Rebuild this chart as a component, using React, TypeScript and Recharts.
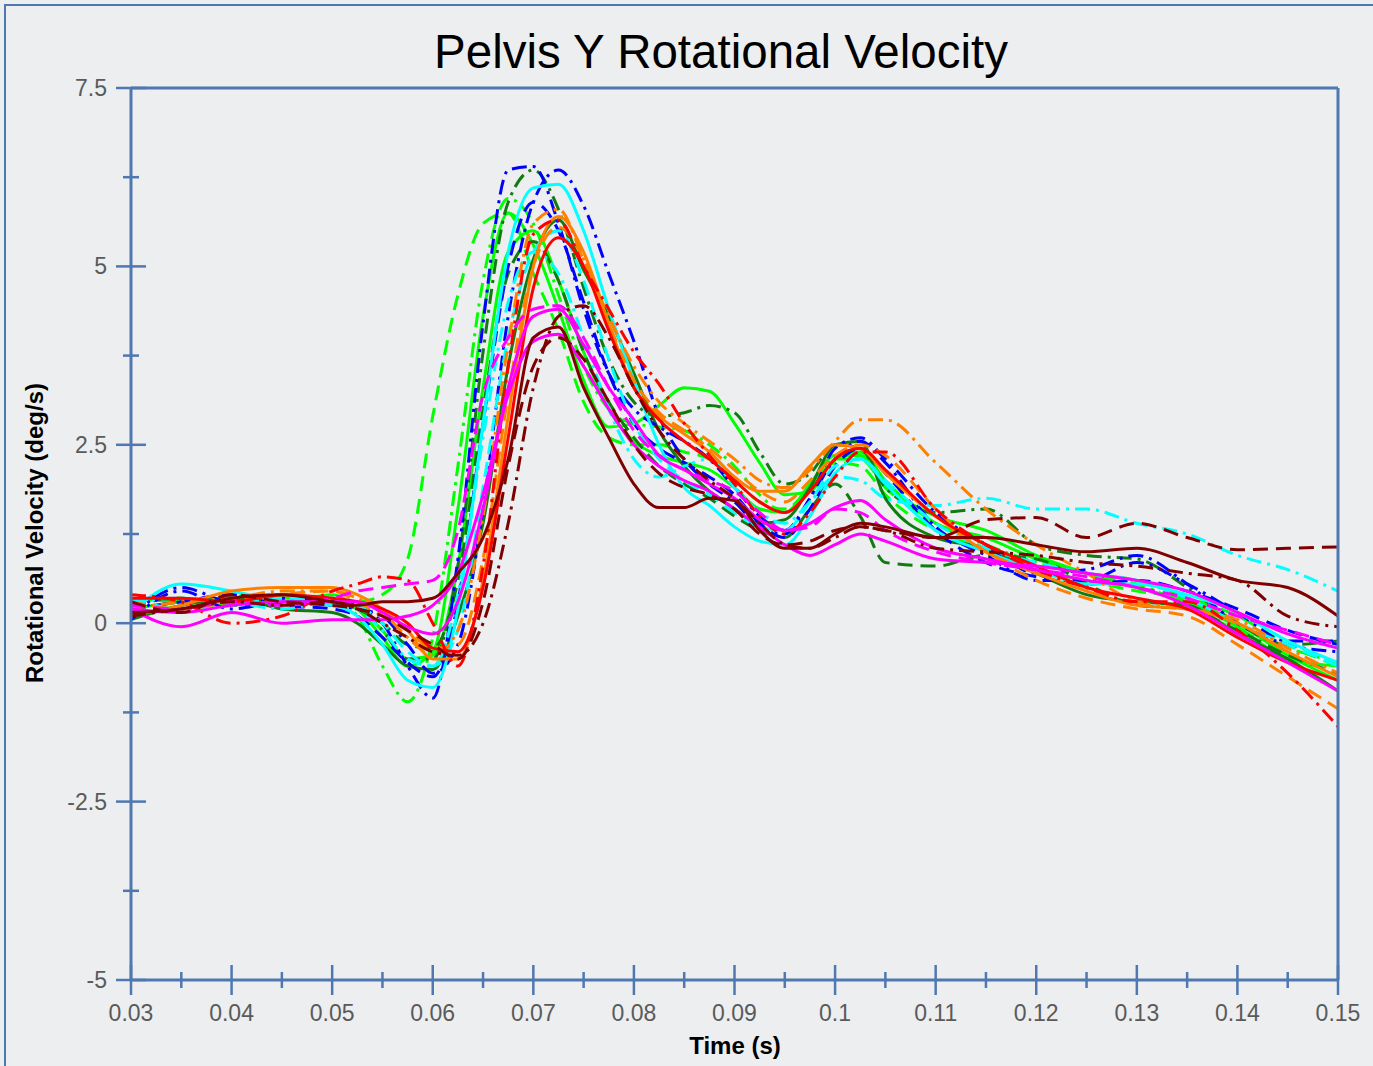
import React from 'react';
import { LineChart, Line, XAxis, YAxis, ReferenceLine } from 'recharts';

// sample times (s) - denser around the main peak
const time = [0.03, 0.035, 0.04, 0.045, 0.05, 0.0525, 0.055, 0.0575, 0.06, 0.0625, 0.065, 0.0675, 0.07, 0.0725, 0.075, 0.0775, 0.08, 0.0825, 0.085, 0.0875, 0.09, 0.0925, 0.095, 0.0975, 0.1, 0.1025, 0.105, 0.11, 0.115, 0.12, 0.125, 0.13, 0.135, 0.14, 0.145, 0.15];

const xTicks = [0.03, 0.035, 0.04, 0.045, 0.05, 0.055, 0.06, 0.065, 0.07, 0.075, 0.08, 0.085, 0.09, 0.095, 0.1, 0.105, 0.11, 0.115, 0.12, 0.125, 0.13, 0.135, 0.14, 0.145, 0.15];
const yTicks = [-5, -3.75, -2.5, -1.25, 0, 1.25, 2.5, 3.75, 5, 6.25, 7.5];

// velocities (deg/s), one array per trial
const limeDashed = [0.3, 0.35, 0.3, 0.4, 0.35, 0.3, 0.4, 0.9, 2.9, 4.6, 5.6, 5.75, 4.9, 4.1, 3.1, 2.6, 2.5, 2.5, 2.4, 2.3, 2.0, 1.7, 1.6, 1.9, 2.25, 2.2, 1.8, 1.3, 1.05, 0.75, 0.6, 0.45, 0.35, 0.1, -0.3, -0.6];
const limeSolid = [0.2, 0.3, 0.35, 0.3, 0.4, 0.2, -0.2, -0.6, -0.4, 1.6, 4.3, 5.75, 5.3, 4.4, 3.4, 2.75, 2.8, 3.05, 3.3, 3.25, 2.8, 2.25, 1.8, 1.85, 2.3, 2.4, 2.0, 1.4, 1.2, 0.9, 0.7, 0.6, 0.35, 0.0, -0.45, -0.8];
const limeDashDot = [0.1, 0.25, 0.4, 0.35, 0.35, 0.1, -0.6, -1.1, -0.2, 2.2, 4.8, 5.95, 5.6, 4.6, 3.6, 3.0, 2.8, 2.75, 2.7, 2.5, 2.2, 1.8, 1.55, 1.9, 2.3, 2.3, 1.9, 1.4, 1.1, 0.85, 0.7, 0.55, 0.25, -0.1, -0.35, -0.55];
const limeSolid2 = [0.35, 0.3, 0.25, 0.4, 0.3, 0.2, -0.1, -0.5, -0.45, 0.8, 3.3, 5.2, 5.5, 4.8, 3.8, 3.0, 2.55, 2.35, 2.25, 2.15, 1.9, 1.6, 1.55, 1.95, 2.35, 2.35, 1.95, 1.5, 1.3, 0.95, 0.7, 0.5, 0.3, -0.05, -0.5, -0.6];
const greenDashDot = [0.2, 0.3, 0.35, 0.3, 0.35, 0.25, -0.1, -0.5, -0.5, 0.8, 3.8, 5.9, 6.35, 5.8, 4.7, 3.7, 3.1, 2.9, 2.95, 3.05, 2.95, 2.4, 1.95, 2.1, 2.5, 2.45, 1.9, 1.55, 1.6, 1.1, 0.95, 0.9, 0.5, 0.0, -0.3, -0.25];
const greenSolid = [0.05, 0.25, 0.35, 0.2, 0.15, 0.0, -0.3, -0.6, -0.65, 0.1, 1.4, 3.6, 5.1, 5.65, 4.95, 4.3, 3.5, 2.7, 2.2, 1.85, 1.6, 1.4, 1.45, 1.9, 2.5, 2.55, 1.75, 1.2, 1.05, 0.7, 0.4, 0.3, 0.25, -0.15, -0.5, -0.95];
const greenDashed = [0.25, 0.35, 0.25, 0.3, 0.3, 0.2, 0.0, -0.3, -0.35, 0.6, 3.0, 4.9, 5.35, 4.8, 3.8, 3.1, 2.6, 2.2, 1.95, 1.75, 1.5, 1.3, 1.2, 1.6, 1.95, 1.5, 0.85, 0.8, 0.95, 0.9, 0.55, 0.25, 0.2, -0.1, -0.45, -0.7];
const blueDashDotA = [0.1, 0.5, 0.3, 0.35, 0.3, 0.25, 0.0, -0.6, -1.05, 0.9, 4.2, 6.35, 6.4, 5.6, 4.4, 3.5, 3.0, 2.75, 2.55, 2.3, 1.9, 1.5, 1.3, 1.75, 2.3, 2.55, 2.25, 1.35, 0.95, 0.6, 0.6, 0.85, 0.55, 0.15, -0.25, -0.25];
const blueDashDotB = [0.05, 0.45, 0.2, 0.3, 0.25, 0.2, 0.1, -0.3, -0.7, -0.3, 1.6, 4.3, 5.9, 6.35, 5.85, 4.9, 3.95, 2.9, 2.3, 1.95, 1.7, 1.35, 1.25, 1.75, 2.45, 2.6, 2.3, 1.55, 1.1, 0.7, 0.75, 0.95, 0.55, 0.0, -0.3, -0.4];
const blueDashed = [0.2, 0.3, 0.4, 0.25, 0.2, 0.1, -0.2, -0.55, -0.75, 0.3, 2.8, 5.0, 5.9, 5.5, 4.5, 3.5, 2.8, 2.45, 2.25, 2.05, 1.8, 1.4, 1.2, 1.6, 2.2, 2.45, 2.1, 1.3, 0.85, 0.65, 0.55, 0.6, 0.45, 0.2, -0.1, -0.3];
const cyanSolid = [0.15, 0.55, 0.45, 0.3, 0.25, 0.1, -0.3, -0.8, -0.9, 0.2, 2.8, 5.2, 6.1, 6.15, 5.5, 4.4, 3.4, 2.5, 1.9, 1.65, 1.35, 1.15, 1.1, 1.5, 2.1, 2.3, 1.95, 1.3, 1.0, 0.75, 0.55, 0.55, 0.4, 0.15, -0.25, -0.55];
const cyanDashDot = [0.3, 0.35, 0.3, 0.2, 0.3, 0.2, -0.1, -0.5, -0.6, 0.4, 2.6, 4.5, 5.2, 4.9, 4.0, 3.0, 2.3, 2.05, 2.2, 2.3, 1.9, 1.55, 1.4, 1.7, 2.05, 2.0, 1.75, 1.65, 1.75, 1.6, 1.6, 1.4, 1.25, 0.95, 0.75, 0.45];
const cyanDashed = [0.35, 0.2, 0.25, 0.35, 0.3, 0.25, 0.0, -0.4, -0.6, -0.1, 1.9, 4.0, 5.2, 5.5, 4.8, 3.7, 2.8, 2.3, 2.0, 1.8, 1.55, 1.35, 1.3, 1.7, 2.2, 2.3, 2.0, 1.4, 1.05, 0.85, 0.7, 0.6, 0.35, 0.0, -0.3, -0.6];
const orangeDashDot = [0.2, 0.3, 0.35, 0.45, 0.45, 0.35, 0.15, -0.2, -0.45, -0.1, 1.5, 3.9, 5.6, 5.8, 5.1, 4.3, 3.6, 3.1, 2.8, 2.55, 2.3, 2.0, 1.9, 2.15, 2.55, 2.85, 2.85, 2.25, 1.6, 1.1, 0.7, 0.3, 0.2, 0.05, -0.35, -0.7];
const orangeSolid = [0.1, 0.25, 0.45, 0.5, 0.5, 0.4, 0.2, -0.1, -0.5, -0.5, 0.6, 2.9, 5.0, 5.7, 5.2, 4.2, 3.3, 2.9, 2.65, 2.4, 2.05, 1.85, 1.85, 2.2, 2.5, 2.45, 2.1, 1.5, 1.0, 0.7, 0.45, 0.25, 0.2, 0.0, -0.4, -0.75];
const orangeDashed = [0.3, 0.2, 0.3, 0.4, 0.45, 0.3, 0.1, -0.1, -0.35, -0.3, 0.9, 3.2, 5.0, 5.55, 5.1, 4.2, 3.4, 2.95, 2.7, 2.45, 2.15, 1.85, 1.7, 2.0, 2.35, 2.5, 2.35, 1.6, 1.0, 0.6, 0.35, 0.2, 0.1, -0.3, -0.75, -1.2];
const redDashDot = [0.4, 0.3, 0.0, 0.1, 0.45, 0.55, 0.65, 0.6, 0.0, -0.6, 0.8, 3.6, 5.45, 5.65, 5.0, 4.4, 3.8, 3.35, 2.8, 2.35, 1.95, 1.5, 1.25, 1.55, 2.05, 2.4, 2.4, 1.6, 1.1, 0.75, 0.5, 0.3, 0.3, -0.1, -0.7, -1.45];
const redSolid = [0.35, 0.35, 0.3, 0.4, 0.35, 0.3, 0.2, 0.0, -0.35, -0.4, 0.5, 2.6, 4.7, 5.4, 5.0, 4.1, 3.3, 2.85, 2.55, 2.3, 2.0, 1.7, 1.55, 1.85, 2.3, 2.45, 2.15, 1.5, 1.1, 0.8, 0.5, 0.35, 0.2, -0.2, -0.55, -0.8];
const magentaDashed = [0.25, 0.2, 0.3, 0.25, 0.35, 0.45, 0.5, 0.55, 0.6, 1.3, 3.2, 4.0, 4.4, 4.45, 4.0, 3.3, 2.7, 2.35, 2.15, 2.0, 1.85, 1.55, 1.3, 1.35, 1.6, 1.55, 1.3, 1.0, 0.85, 0.75, 0.65, 0.5, 0.35, 0.1, -0.1, -0.3];
const magentaSolid = [0.2, 0.15, 0.25, 0.3, 0.3, 0.3, 0.15, -0.05, -0.15, 0.3, 1.6, 3.3, 4.3, 4.4, 3.9, 3.3, 2.85, 2.35, 2.15, 1.95, 1.75, 1.45, 1.3, 1.4, 1.62, 1.72, 1.45, 1.05, 0.9, 0.75, 0.6, 0.5, 0.25, -0.15, -0.55, -0.95];
const magentaSolid2 = [0.2, -0.05, 0.15, 0.0, 0.05, 0.05, 0.05, 0.1, 0.25, 0.7, 1.8, 3.2, 3.95, 4.05, 3.6, 3.0, 2.5, 2.2, 2.0, 1.85, 1.6, 1.35, 1.1, 0.95, 1.1, 1.25, 1.15, 0.9, 0.85, 0.8, 0.7, 0.6, 0.45, 0.15, -0.15, -0.35];
const maroonSolid = [0.15, 0.2, 0.35, 0.4, 0.3, 0.25, 0.3, 0.3, 0.35, 0.7, 1.2, 2.3, 4.0, 4.15, 3.3, 2.6, 1.95, 1.62, 1.62, 1.75, 1.72, 1.3, 1.05, 1.05, 1.25, 1.4, 1.35, 1.2, 1.2, 1.1, 1.0, 1.05, 0.85, 0.6, 0.5, 0.1];
const maroonDashDot = [0.1, 0.2, 0.3, 0.25, 0.3, 0.2, 0.0, -0.2, -0.4, -0.45, 0.0, 1.4, 3.3, 4.3, 4.45, 4.0, 3.3, 2.7, 2.3, 2.0, 1.75, 1.4, 1.1, 1.05, 1.2, 1.35, 1.3, 1.05, 1.0, 0.95, 0.85, 0.8, 0.7, 0.6, 0.1, -0.05];
const maroonDashed = [0.3, 0.15, 0.4, 0.3, 0.25, 0.2, 0.1, -0.1, -0.3, -0.5, 0.3, 2.2, 3.6, 4.0, 3.7, 3.1, 2.5, 2.1, 1.9, 1.8, 1.6, 1.25, 1.1, 1.15, 1.3, 1.35, 1.3, 1.2, 1.45, 1.48, 1.2, 1.4, 1.2, 1.03, 1.05, 1.07];

const LIME = '#00ff00';
const GREEN = '#107c10';
const BLUE = '#0000ff';
const CYAN = '#00ffff';
const ORANGE = '#ff8000';
const RED = '#ff0000';
const MAGENTA = '#ff00ff';
const MAROON = '#800000';

const SOLID = undefined;
const DASHED = '15 8';
const DASHDOT = '15 6 3 6';

const series = [
  { key: 'limeDashed', values: limeDashed, color: LIME, dash: DASHED },
  { key: 'limeSolid', values: limeSolid, color: LIME, dash: SOLID },
  { key: 'limeDashDot', values: limeDashDot, color: LIME, dash: DASHDOT },
  { key: 'limeSolid2', values: limeSolid2, color: LIME, dash: SOLID },
  { key: 'greenDashDot', values: greenDashDot, color: GREEN, dash: DASHDOT },
  { key: 'greenSolid', values: greenSolid, color: GREEN, dash: SOLID },
  { key: 'greenDashed', values: greenDashed, color: GREEN, dash: DASHED },
  { key: 'blueDashDotA', values: blueDashDotA, color: BLUE, dash: DASHDOT },
  { key: 'blueDashDotB', values: blueDashDotB, color: BLUE, dash: DASHDOT },
  { key: 'blueDashed', values: blueDashed, color: BLUE, dash: DASHED },
  { key: 'cyanSolid', values: cyanSolid, color: CYAN, dash: SOLID },
  { key: 'cyanDashDot', values: cyanDashDot, color: CYAN, dash: DASHDOT },
  { key: 'cyanDashed', values: cyanDashed, color: CYAN, dash: DASHED },
  { key: 'orangeDashDot', values: orangeDashDot, color: ORANGE, dash: DASHDOT },
  { key: 'orangeSolid', values: orangeSolid, color: ORANGE, dash: SOLID },
  { key: 'orangeDashed', values: orangeDashed, color: ORANGE, dash: DASHED },
  { key: 'redDashDot', values: redDashDot, color: RED, dash: DASHDOT },
  { key: 'redSolid', values: redSolid, color: RED, dash: SOLID },
  { key: 'magentaDashed', values: magentaDashed, color: MAGENTA, dash: DASHED },
  { key: 'magentaSolid', values: magentaSolid, color: MAGENTA, dash: SOLID },
  { key: 'magentaSolid2', values: magentaSolid2, color: MAGENTA, dash: SOLID },
  { key: 'maroonSolid', values: maroonSolid, color: MAROON, dash: SOLID },
  { key: 'maroonDashDot', values: maroonDashDot, color: MAROON, dash: DASHDOT },
  { key: 'maroonDashed', values: maroonDashed, color: MAROON, dash: DASHED },
];

const data = time.map((t, i) => {
  const row: Record<string, number> = { t };
  series.forEach((s) => {
    row[s.key] = s.values[i];
  });
  return row;
});

const AXIS = '#4f78b0';
const FONT = "'Liberation Sans', Arial, sans-serif";
const TICK_TEXT = '#5a5a5a';

const XTick = (props: any) => {
  const { x, y, payload } = props;
  const v = payload.value;
  const major = Math.abs(v * 100 - Math.round(v * 100)) < 1e-6;
  const len = major ? 15 : 8;
  return (
    <g>
      <line x1={x} x2={x} y1={y - len} y2={y + len} stroke={AXIS} strokeWidth={2.5} />
      {major && (
        <text x={x} y={y + 41} textAnchor="middle" fontSize={23} fill={TICK_TEXT} fontFamily={FONT}>
          {String(v)}
        </text>
      )}
    </g>
  );
};

const YTick = (props: any) => {
  const { x, y, payload } = props;
  const v = payload.value;
  const major = Math.abs(v / 2.5 - Math.round(v / 2.5)) < 1e-6;
  const len = major ? 15 : 8;
  return (
    <g>
      <line x1={x - len} x2={x + len} y1={y} y2={y} stroke={AXIS} strokeWidth={2.5} />
      {major && (
        <text x={x - 24} y={y + 8} textAnchor="end" fontSize={23} fill={TICK_TEXT} fontFamily={FONT}>
          {String(v)}
        </text>
      )}
    </g>
  );
};

const App: React.FC = () => {
  return (
    <div style={{ position: 'absolute', left: 0, top: 0, width: 1373, height: 1066, background: '#eceef0', overflow: 'hidden' }}>
      <div
        style={{
          position: 'absolute',
          left: 4,
          top: 4,
          width: 1420,
          height: 1120,
          border: `2px solid ${AXIS}`,
        }}
      />
      <div style={{ position: 'absolute', left: 0, top: 0 }}>
        <LineChart width={1373} height={1066} data={data} margin={{ top: 88, right: 35, bottom: 0, left: 0 }}>
          <XAxis
            dataKey="t"
            type="number"
            domain={[0.03, 0.15]}
            ticks={xTicks}
            interval={0}
            height={86}
            tickSize={0}
            tickMargin={0}
            tickLine={false}
            axisLine={{ stroke: AXIS, strokeWidth: 3 }}
            tick={<XTick />}
            allowDataOverflow
          />
          <YAxis
            type="number"
            domain={[-5, 7.5]}
            ticks={yTicks}
            interval={0}
            width={131}
            tickSize={0}
            tickMargin={0}
            tickLine={false}
            axisLine={{ stroke: AXIS, strokeWidth: 3 }}
            tick={<YTick />}
            allowDataOverflow
          />
          {series.map((s) => (
            <Line
              key={s.key}
              dataKey={s.key}
              type="monotone"
              stroke={s.color}
              strokeWidth={3}
              strokeDasharray={s.dash}
              dot={false}
              activeDot={false}
              isAnimationActive={false}
            />
          ))}
          <ReferenceLine y={7.5} stroke={AXIS} strokeWidth={3} />
          <ReferenceLine x={0.15} stroke={AXIS} strokeWidth={3} />
        </LineChart>
      </div>
      <svg width={1373} height={1066} style={{ position: 'absolute', left: 0, top: 0, pointerEvents: 'none' }}>
        <text x={721} y={68} textAnchor="middle" fontSize={47.5} fill="#000" fontFamily={FONT}>
          Pelvis Y Rotational Velocity
        </text>
        <text x={735} y={1054} textAnchor="middle" fontSize={24} fontWeight="bold" fill="#000" fontFamily={FONT}>
          Time (s)
        </text>
        <text
          x={0}
          y={0}
          transform="translate(43,533) rotate(-90)"
          textAnchor="middle"
          fontSize={24}
          fontWeight="bold"
          fill="#000"
          fontFamily={FONT}
        >
          Rotational Velocity (deg/s)
        </text>
      </svg>
    </div>
  );
};

export default App;
